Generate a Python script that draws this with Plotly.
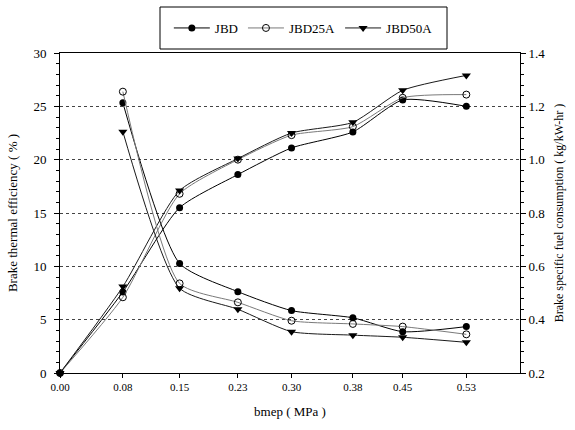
import plotly.graph_objects as go

# x positions (bmep, MPa) and tick labels
bmep = [0.0, 0.082, 0.156, 0.232, 0.302, 0.382, 0.447, 0.530]
tick_labels = ["0.00", "0.08", "0.15", "0.23", "0.30", "0.38", "0.45", "0.53"]

# Brake thermal efficiency (%)
bte_jbd = [0.0, 7.6, 15.5, 18.6, 21.1, 22.6, 25.6, 25.0]
bte_jbd25a = [0.0, 7.1, 16.8, 20.0, 22.3, 23.1, 25.8, 26.1]
bte_jbd50a = [0.0, 8.1, 17.1, 20.1, 22.5, 23.5, 26.5, 27.9]

# Brake specific fuel consumption (kg/kW-hr), from 0.08 MPa on
bsfc_x = bmep[1:]
bsfc_jbd = [1.213, 0.611, 0.505, 0.434, 0.407, 0.355, 0.374]
bsfc_jbd25a = [1.255, 0.536, 0.465, 0.396, 0.384, 0.374, 0.345]
bsfc_jbd50a = [1.105, 0.518, 0.439, 0.355, 0.342, 0.334, 0.315]

series = [
    ("JBD", bte_jbd, bsfc_jbd, "#000000",
     dict(symbol="circle", size=7, color="#000000")),
    ("JBD25A", bte_jbd25a, bsfc_jbd25a, "#7a7a7a",
     dict(symbol="circle-open", size=7, color="#000000", line=dict(width=1))),
    ("JBD50A", bte_jbd50a, bsfc_jbd50a, "#1a1a1a",
     dict(symbol="triangle-down", size=8, color="#000000")),
]

fig = go.Figure()
for name, bte, bsfc, lc, mk in series:
    fig.add_trace(go.Scatter(
        x=bmep, y=bte, name=name, mode="lines+markers",
        line=dict(color=lc, width=1, shape="spline", smoothing=0.6),
        marker=mk, cliponaxis=False, yaxis="y", legendgroup=name))
for name, bte, bsfc, lc, mk in series:
    fig.add_trace(go.Scatter(
        x=bsfc_x, y=bsfc, name=name, mode="lines+markers",
        line=dict(color=lc, width=1, shape="spline", smoothing=0.6),
        marker=mk, cliponaxis=False, yaxis="y2", showlegend=False,
        legendgroup=name))

FAM = "Liberation Serif"
font = dict(family=FAM, size=12, color="#000")

# legend frame (paper coordinates)
fig.add_shape(type="rect", xref="paper", yref="paper",
              x0=(160 - 60) / 460, x1=(447 - 60) / 460,
              y0=(373 - 49) / 320, y1=(373 - 7) / 320,
              line=dict(color="#000", width=1), fillcolor="rgba(0,0,0,0)",
              layer="above")

fig.update_layout(
    width=575, height=430,
    margin=dict(l=60, r=55, t=53, b=57),
    paper_bgcolor="white", plot_bgcolor="white",
    font=font,
    showlegend=True,
    legend=dict(orientation="h", x=0.529, y=(373 - 28) / 320, xanchor="center",
                yanchor="middle", borderwidth=0, bgcolor="rgba(0,0,0,0)",
                font=dict(family=FAM, size=13), itemwidth=36,
                tracegroupgap=0),
    xaxis=dict(range=[0, 0.6], tickmode="array", tickvals=bmep, ticktext=tick_labels,
               showgrid=False, zeroline=False, showline=True, linecolor="#000",
               linewidth=1, mirror=True, ticks="outside", ticklen=4, tickcolor="#000",
               tickfont=dict(family=FAM, size=11),
               title=dict(text="bmep ( MPa )", standoff=14, font=dict(family=FAM, size=13))),
    yaxis=dict(range=[0, 30], dtick=5, showgrid=True, gridcolor="#444",
               griddash="dot", gridwidth=1, zeroline=False, showline=True,
               linecolor="#000", linewidth=1, ticks="outside", ticklen=5,
               tickcolor="#000", tickfont=dict(family=FAM, size=13),
               ticklabelstandoff=5,
               minor=dict(dtick=1, ticks="outside", ticklen=3, tickcolor="#000",
                          showgrid=False),
               title=dict(text="Brake thermal efficiency ( % )", standoff=12,
                          font=dict(family=FAM, size=13))),
    yaxis2=dict(range=[0.2, 1.4], dtick=0.2, tickformat=".1f", overlaying="y",
                side="right", showgrid=False, zeroline=False, showline=True,
                linecolor="#000", linewidth=1, ticks="outside", ticklen=5,
                tickcolor="#000", tickfont=dict(family=FAM, size=13),
                minor=dict(dtick=0.04, ticks="outside", ticklen=3, tickcolor="#000",
                           showgrid=False),
                title=dict(text="Brake specific fuel consumption ( kg/kW-hr )",
                           standoff=10, font=dict(family=FAM, size=12))),
)

fig.write_html("out.html",
               config={"displayModeBar": False},
               post_script="document.body.style.margin='0';")
